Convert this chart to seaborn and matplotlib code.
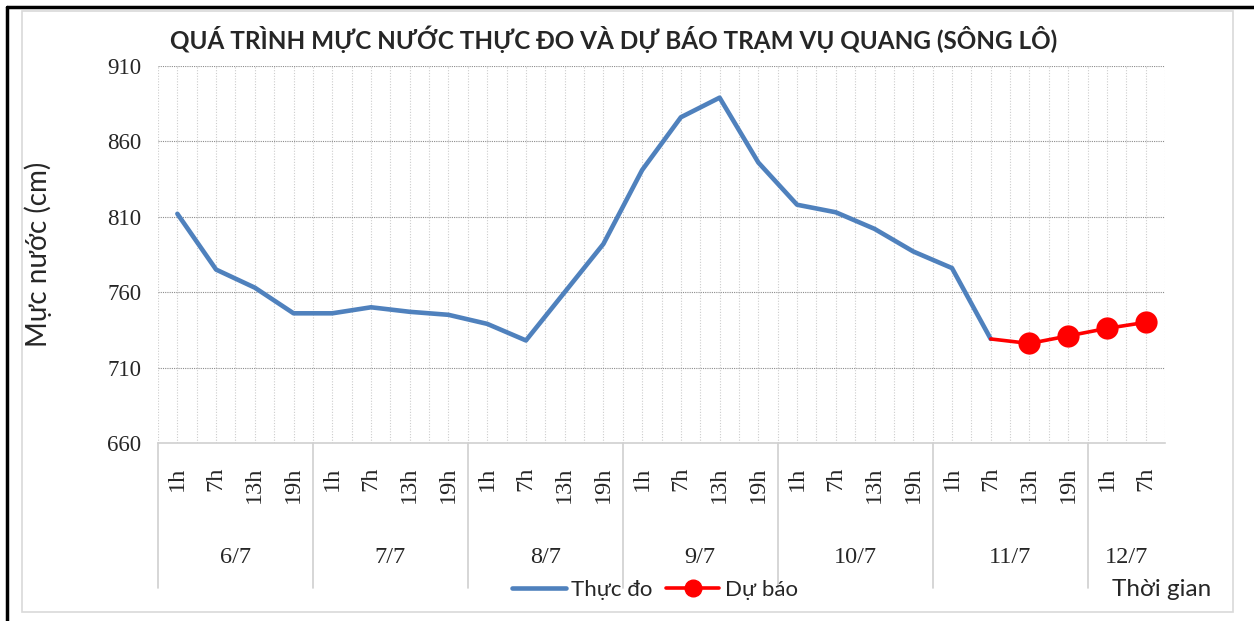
#!/usr/bin/env python3
"""Water level observed vs forecast at Vu Quang station (Lo river)."""

import matplotlib.pyplot as plt
from matplotlib.lines import Line2D
import matplotlib.transforms as mtransforms
import numpy as np
import pandas as pd
import seaborn as sns

# Category axis: days and hours
DAYS = ["6/7", "7/7", "8/7", "9/7", "10/7", "11/7", "12/7"]
HOURS_PER_DAY = [
    ["1h", "7h", "13h", "19h"],
    ["1h", "7h", "13h", "19h"],
    ["1h", "7h", "13h", "19h"],
    ["1h", "7h", "13h", "19h"],
    ["1h", "7h", "13h", "19h"],
    ["1h", "7h", "13h", "19h"],
    ["1h", "7h"],
]

# Observed levels (cm), 6/7 1h .. 11/7 7h
OBSERVED = [812, 775, 763, 746,
            746, 750, 747, 745,
            739, 728, 760, 792,
            841, 876, 889, 846,
            818, 813, 802, 787,
            776, 729]

# Forecast levels (cm), 11/7 7h .. 12/7 7h
FORECAST = [729, 726, 731, 736, 740]

Y_TICKS = [660, 710, 760, 810, 860, 910]

BLUE = "#4F81BD"
RED = "#FF0000"
SANS = ["Lato", "DejaVu Sans"]

hour_labels = [h for day in HOURS_PER_DAY for h in day]
n_cat = len(hour_labels)

obs_df = pd.DataFrame({"idx": np.arange(len(OBSERVED)), "level": OBSERVED})
fc_start = len(OBSERVED) - 1
fc_df = pd.DataFrame({"idx": np.arange(fc_start, fc_start + len(FORECAST)),
                      "level": FORECAST})

sns.set_style("white")
plt.rcParams["font.family"] = ["Liberation Serif", "DejaVu Serif"]

fig = plt.figure(figsize=(12.54, 6.21), dpi=100)
ax = fig.add_axes([158 / 1254, 1 - 443 / 621, (1165 - 158) / 1254, (443 - 66) / 621])

# grid: vertical dotted lines at every category and half-step
for xv in np.arange(-0.5, n_cat, 0.5):
    ax.axvline(xv, color="#CDCDCD", lw=0.8, ls=(0, (1, 1.5)), zorder=0)
for yv in Y_TICKS[1:]:
    ax.axhline(yv, color="#8C8C8C", lw=0.8, ls=(0, (1, 1)), zorder=0)

sns.lineplot(data=obs_df, x="idx", y="level", ax=ax, color=BLUE, lw=3.3,
             zorder=3, legend=False)
sns.lineplot(data=fc_df, x="idx", y="level", ax=ax, color=RED, lw=2.6,
             marker="o", markersize=16, markeredgewidth=0,
             markevery=list(range(1, len(FORECAST))), zorder=4, legend=False)

ax.set_xlim(-0.5, n_cat - 0.5)
ax.set_ylim(660, 910)
ax.set_yticks(Y_TICKS)
ax.set_yticklabels([str(v) for v in Y_TICKS], fontsize=16.5)
ax.set_xticks(np.arange(n_cat))
ax.set_xticklabels(hour_labels, rotation=90, fontsize=17.5, va="top")
ax.tick_params(axis="x", length=0, pad=17)
ax.tick_params(axis="y", length=0, pad=12)
ax.set_xticks(np.arange(-0.5, n_cat, 1), minor=True)
ax.tick_params(axis="x", which="minor", length=4, color="#D0D0D0", direction="in")
ax.set_xlabel("")
ax.set_ylabel("Mực nước (cm)", fontsize=20, family=SANS, labelpad=40)

for side in ["top", "right", "left"]:
    ax.spines[side].set_visible(False)
ax.spines["bottom"].set_color("#D0D0D0")
ax.spines["bottom"].set_linewidth(1.2)

# day group labels and separators
trans = mtransforms.blended_transform_factory(ax.transData, ax.transAxes)
pos = -0.5
for day, hours in zip(DAYS, HOURS_PER_DAY):
    ax.add_line(Line2D([pos, pos], [0, -0.385], transform=trans, color="#D0D0D0",
                       lw=1.2, clip_on=False))
    ax.text(pos + len(hours) / 2, -0.305, day, transform=trans, ha="center",
            va="center", fontsize=17.5)
    pos += len(hours)

ax.set_title("QUÁ TRÌNH MỰC NƯỚC THỰC ĐO VÀ DỰ BÁO TRẠM VỤ QUANG (SÔNG LÔ)",
             fontsize=17.5, fontweight="bold", family=SANS,
             loc="left", x=0.012, pad=12)

handles = [
    Line2D([], [], color=BLUE, lw=3.3),
    Line2D([], [], color=RED, lw=2.6, marker="o", markersize=12),
]
fig.legend(handles, ["Thực đo", "Dự báo"], loc="center",
           bbox_to_anchor=(655 / 1254, 1 - 590 / 621), ncol=2, frameon=False,
           prop={"family": "Lato", "size": 16}, handlelength=2.4,
           handletextpad=0.25, columnspacing=0.6)

fig.text(1112 / 1254, 1 - 590 / 621, "Thời gian", ha="left", va="center",
         fontsize=17.5, family=SANS)

# outer frames
fig.add_artist(Line2D([7 / 1254, 7 / 1254], [0, 1 - 7 / 621],
                      transform=fig.transFigure, color="black", lw=2.5))
fig.add_artist(Line2D([7 / 1254, 1], [1 - 7 / 621, 1 - 7 / 621],
                      transform=fig.transFigure, color="black", lw=2.5))
fig.add_artist(plt.Rectangle((22 / 1254, 1 - 612 / 621), (1233 - 22) / 1254,
                             (612 - 11) / 621, transform=fig.transFigure,
                             fill=False, edgecolor="#D9D9D9", lw=1.2))

fig.savefig("out.png", dpi=100)
